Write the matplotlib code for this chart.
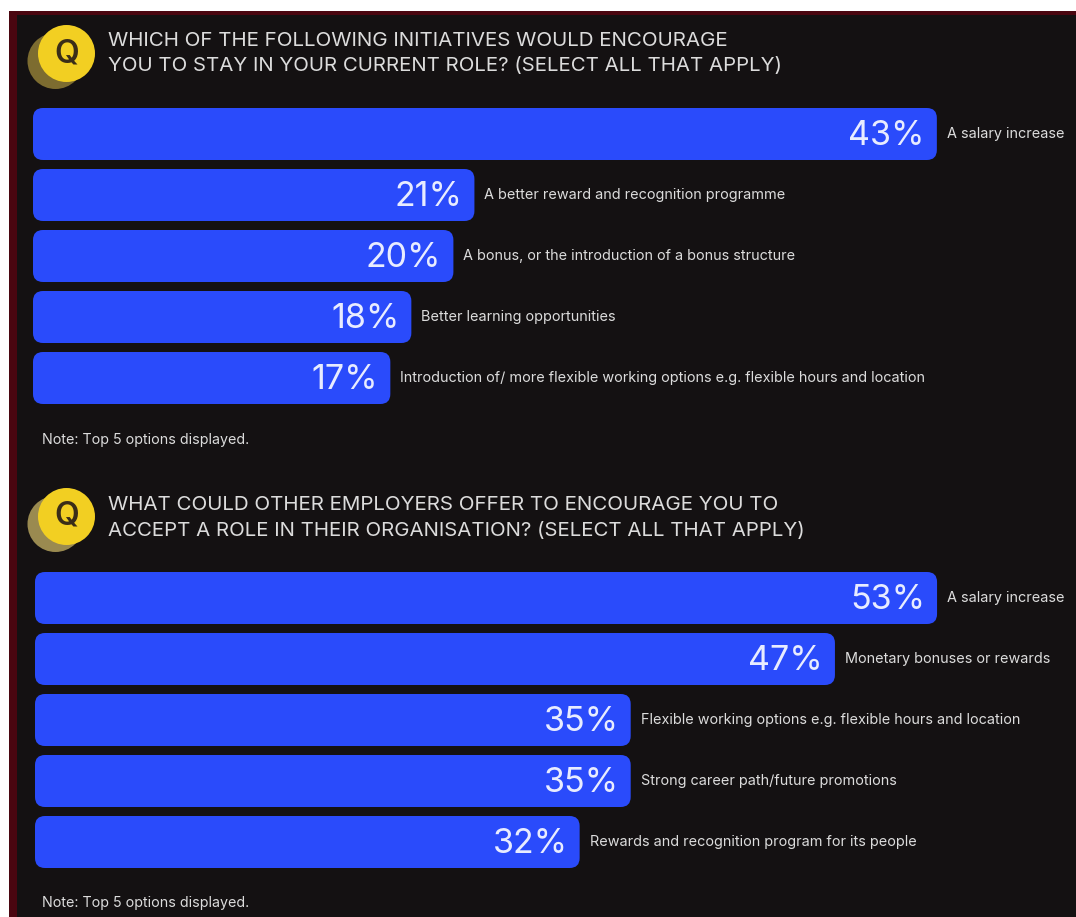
import matplotlib
matplotlib.use('Agg')
import matplotlib.pyplot as plt
from matplotlib.patches import Circle, FancyBboxPatch, Rectangle

plt.rcParams['font.family'] = ['Inter', 'DejaVu Sans']

W, H = 1076, 917

title_1 = ['WHICH OF THE FOLLOWING INITIATIVES WOULD ENCOURAGE',
           'YOU TO STAY IN YOUR CURRENT ROLE? (SELECT ALL THAT APPLY)']
labels_1 = ['A salary increase',
            'A better reward and recognition programme',
            'A bonus, or the introduction of a bonus structure',
            'Better learning opportunities',
            'Introduction of/ more flexible working options e.g. flexible hours and location']
values_1 = [43, 21, 20, 18, 17]

title_2 = ['WHAT COULD OTHER EMPLOYERS OFFER TO ENCOURAGE YOU TO',
           'ACCEPT A ROLE IN THEIR ORGANISATION? (SELECT ALL THAT APPLY)']
labels_2 = ['A salary increase',
            'Monetary bonuses or rewards',
            'Flexible working options e.g. flexible hours and location',
            'Strong career path/future promotions',
            'Rewards and recognition program for its people']
values_2 = [53, 47, 35, 35, 32]

note = 'Note: Top 5 options displayed.'

BLUE = '#2a4bfb'
DARK = '#141112'
TEXT = '#dcdcdc'

fig = plt.figure(figsize=(W / 100, H / 100), dpi=100, facecolor='white')

# backdrop in pixel coordinates: red edge, dark panel
bg = fig.add_axes([0, 0, 1, 1])
bg.set_xlim(0, W)
bg.set_ylim(H, 0)
bg.axis('off')
bg.add_patch(Rectangle((9, 11), W - 9, H - 11, color='#4a0610', lw=0))
bg.add_patch(Rectangle((17, 15), W - 17, H - 15, color=DARK, lw=0))


def question_icon(cx, cy, shadow):
    bg.add_patch(Circle((cx - 11, cy + 7.5), 28, color=shadow, lw=0))
    bg.add_patch(Circle((cx, cy), 28.5, color='#f2cf22', lw=0))
    bg.text(cx, cy, 'Q', color='#3a2d18', fontsize=23, fontweight='semibold',
            ha='center', va='center')


def bar_panel(left, first_centre, px_per_pct, values, labels):
    top = first_centre - 30.5
    ax = fig.add_axes([left / W, 1 - (top + 305) / H, (W - left) / W, 305 / H])
    ax.set_xlim(0, (W - left) / px_per_pct)
    ax.set_ylim(4.5, -0.5)
    ax.axis('off')
    # rounded bars: same radius in both directions despite the unequal scales
    aspect = px_per_pct / 61
    for i, (v, lab) in enumerate(zip(values, labels)):
        ax.add_patch(FancyBboxPatch((0, i - 26 / 61), v, 52 / 61,
                                    boxstyle=f'round,pad=0,rounding_size={10 / px_per_pct}',
                                    mutation_aspect=aspect, fc=BLUE, ec='none'))
        ax.text(v - 12 / px_per_pct, i + 0.04, f'{v}%', color='#e8ecff', fontsize=24.5,
                ha='right', va='center', fontweight='normal')
        ax.text(v + 10 / px_per_pct, i, lab, color=TEXT, fontsize=10.4,
                ha='left', va='center')


question_icon(66.5, 53.5, '#7d6c30')
bg.text(108, 41, title_1[0], color=TEXT, fontsize=14.8, va='center')
bg.text(108, 66, title_1[1], color=TEXT, fontsize=14.7, va='center')
bar_panel(33, 134, 21.02, values_1, labels_1)
bg.text(42, 440, note, color=TEXT, fontsize=10.3, va='center')

question_icon(66.5, 516.5, '#9a8a50')
bg.text(108, 505, title_2[0], color=TEXT, fontsize=14.8, va='center')
bg.text(108, 531, title_2[1], color=TEXT, fontsize=14.7, va='center')
bar_panel(35, 598, 17.02, values_2, labels_2)
bg.text(42, 903, note, color=TEXT, fontsize=10.3, va='center')

fig.savefig('out.png', dpi=100, facecolor='white')
